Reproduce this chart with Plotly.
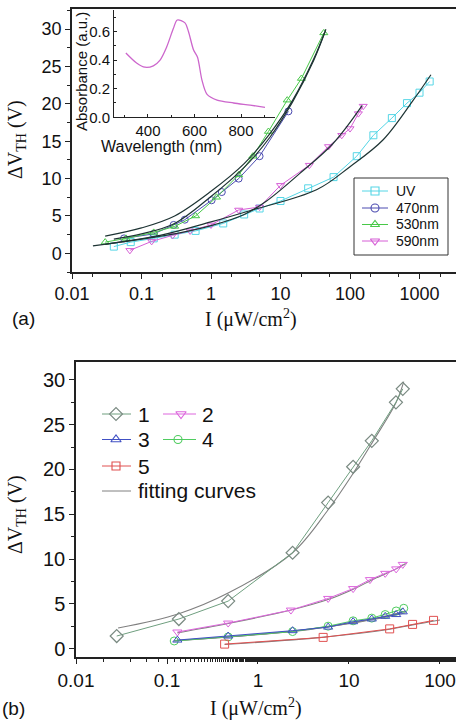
import plotly.graph_objects as go

W, H = 456, 722

# ---------------- data: panel (a) ----------------
uv_I = [0.04, 0.07, 0.15, 0.3, 0.6, 1.5, 3, 5, 10, 25, 58, 125, 217, 400, 660, 1000, 1400]
uv_V = [0.9, 1.5, 2.0, 2.5, 3.0, 4.0, 5.2, 6.0, 7.0, 8.7, 10.2, 13.0, 15.8, 18.1, 20.1, 21.5, 23.0]
b470_I = [0.056, 0.15, 0.29, 0.42, 1.02, 1.43, 2.5, 5, 13]
b470_V = [2.0, 2.6, 3.8, 4.5, 7.1, 8.2, 10.0, 13.0, 19.0]
g530_I = [0.03, 0.06, 0.15, 0.3, 0.6, 1.2, 2.5, 4, 6.7, 12.5, 20, 42]
g530_V = [1.5, 2.0, 2.8, 3.6, 5.0, 7.5, 10.5, 13.0, 16.3, 20.5, 23.4, 29.5]
m590_I = [0.068, 0.14, 0.28, 0.5, 1.0, 2.5, 5, 10, 26, 49, 76, 100, 132, 155]
m590_V = [0.4, 1.6, 2.4, 3.0, 3.8, 5.8, 6.2, 9.1, 11.8, 14.3, 15.8, 16.7, 18.7, 19.7]

# fitting curves of panel (a)
fit_uv_I = [0.02, 0.185, 1, 3.6, 33, 100, 300, 813, 1460]
fit_uv_V = [1.0, 2.4, 4.2, 5.7, 8.5, 11.6, 15.2, 20.5, 23.9]
fit_470_I = [0.04, 0.1, 0.3, 1, 3, 7, 15, 30, 44]
fit_470_V = [1.9, 2.6, 4.0, 7.6, 11.5, 15.5, 20.3, 25.8, 29.7]
fit_530_I = [0.03, 0.1, 0.3, 1, 3, 7, 15, 30, 45]
fit_530_V = [2.3, 3.4, 5.0, 8.3, 12.0, 16.0, 20.5, 26.0, 30.0]
fit_590_I = [0.03, 0.1, 0.3, 1, 3, 6.3, 19, 57, 150]
fit_590_V = [1.2, 1.9, 2.6, 3.7, 5.2, 7.0, 10.7, 14.7, 19.8]

# inset: absorbance spectrum
wl_nm = [305, 351, 387, 423, 452, 480, 509, 526, 559, 574, 596, 613, 632, 654, 697, 768, 839, 903]
absorb = [0.45, 0.38, 0.35, 0.36, 0.40, 0.49, 0.62, 0.68, 0.66, 0.60, 0.47, 0.42, 0.26, 0.16, 0.12, 0.10, 0.085, 0.07]

# ---------------- data: panel (b) ----------------
s1_I = [0.028, 0.135, 0.47, 2.4, 5.9, 11.1, 17.8, 32.8, 39]
s1_V = [1.4, 3.3, 5.3, 10.7, 16.3, 20.3, 23.2, 27.5, 29.0]
s2_I = [0.13, 0.47, 2.3, 5.9, 11.1, 17, 25, 33, 39]
s2_V = [1.85, 2.85, 4.3, 5.6, 6.7, 7.7, 8.4, 8.9, 9.4]
s3_I = [0.13, 0.47, 2.4, 5.9, 11.1, 17.8, 25, 33, 39]
s3_V = [0.95, 1.4, 2.0, 2.4, 3.0, 3.3, 3.6, 3.8, 4.1]
s4_I = [0.12, 0.47, 2.4, 5.9, 11.1, 17.8, 25, 33, 40]
s4_V = [0.85, 1.3, 1.9, 2.5, 3.1, 3.4, 3.8, 4.2, 4.5]
s5_I = [0.43, 5.2, 28, 50, 85]
s5_V = [0.5, 1.25, 2.2, 2.7, 3.15]

fit1_I = [0.029, 0.135, 0.47, 2.4, 5.9, 11, 18, 33, 40]
fit1_V = [2.3, 3.9, 6.2, 10.7, 15.5, 19.5, 23.0, 27.5, 29.8]
fit2_I = [0.13, 0.47, 2.3, 6, 11, 20, 33, 42]
fit2_V = [1.75, 2.8, 4.3, 5.5, 6.6, 7.9, 8.9, 9.5]
fit3_I = [0.12, 0.47, 2.4, 6, 11, 20, 33, 42]
fit3_V = [0.9, 1.3, 1.95, 2.45, 2.85, 3.3, 3.75, 4.0]
fit4_I = [0.12, 0.47, 2.4, 6, 11, 20, 33, 42]
fit4_V = [0.85, 1.3, 1.9, 2.45, 2.9, 3.4, 3.9, 4.2]
fit5_I = [0.43, 5, 28, 50, 100]
fit5_V = [0.45, 1.25, 2.15, 2.65, 3.2]

# ---------------- styles ----------------
C_UV, C_470, C_530, C_590 = '#55d6e6', '#4b4bb0', '#48c848', '#d65fd6'
C_FIT_A = '#1e3434'
C_S1L, C_S1M = '#6f9f7f', '#7a8a82'
C_S2, C_S3, C_S4, C_S5 = '#dd66dd', '#4050c4', '#50cc60', '#e05050'
C_FIT_B = '#808080'
AX = '#222222'
SANS = 'Liberation Sans, Arial, sans-serif'
SERIF = 'Liberation Serif, Times New Roman, serif'


def px(x):
    return x / W


def py(y):
    return 1 - y / H


fig = go.Figure()


def data_trace(xs, ys, color, symbol, size, xa, ya, lw=1):
    fig.add_trace(go.Scatter(x=xs, y=ys, mode='lines+markers', xaxis=xa, yaxis=ya,
                             line=dict(color=color, width=lw),
                             marker=dict(symbol=symbol, size=size, color=color,
                                         line=dict(color=color, width=1)),
                             showlegend=False, hoverinfo='skip'))


def fit_trace(xs, ys, color, xa, ya, lw=1.2):
    fig.add_trace(go.Scatter(x=xs, y=ys, mode='lines', xaxis=xa, yaxis=ya,
                             line=dict(color=color, width=lw, shape='spline', smoothing=1.0),
                             showlegend=False, hoverinfo='skip'))


# panel (a)
data_trace(uv_I, uv_V, C_UV, 'square-open', 7, 'x', 'y')
data_trace(b470_I, b470_V, C_470, 'circle-open', 7, 'x', 'y')
data_trace(g530_I, g530_V, C_530, 'triangle-up-open', 7, 'x', 'y')
data_trace(m590_I, m590_V, C_590, 'triangle-down-open', 7, 'x', 'y')
for fx, fy in [(fit_uv_I, fit_uv_V), (fit_470_I, fit_470_V), (fit_530_I, fit_530_V), (fit_590_I, fit_590_V)]:
    fit_trace(fx, fy, C_FIT_A, 'x', 'y')

# inset
fig.add_trace(go.Scatter(x=wl_nm, y=absorb, mode='lines', xaxis='x3', yaxis='y3',
                         line=dict(color='#cc66cc', width=1.3, shape='spline', smoothing=0.8),
                         showlegend=False, hoverinfo='skip'))

# panel (b)
for fx, fy in [(fit1_I, fit1_V), (fit2_I, fit2_V), (fit3_I, fit3_V), (fit4_I, fit4_V), (fit5_I, fit5_V)]:
    fit_trace(fx, fy, C_FIT_B, 'x2', 'y2', lw=1.1)
fig.add_trace(go.Scatter(x=s1_I, y=s1_V, mode='lines+markers', xaxis='x2', yaxis='y2',
                         line=dict(color=C_S1L, width=1),
                         marker=dict(symbol='diamond-open', size=10, color=C_S1M, line=dict(color=C_S1M, width=1.2)),
                         showlegend=False, hoverinfo='skip'))
data_trace(s2_I, s2_V, C_S2, 'triangle-down-open', 8, 'x2', 'y2')
data_trace(s4_I, s4_V, C_S4, 'circle-open', 8, 'x2', 'y2')
data_trace(s3_I, s3_V, C_S3, 'triangle-up-open', 8, 'x2', 'y2')
data_trace(s5_I, s5_V, C_S5, 'square-open', 8, 'x2', 'y2')

# ---------------- manual legends (overlay pixel axis) ----------------
ann = []


def legend_entry(x0, x1, xm, yrow, color, symbol, size, label, fsize, tx, mcolor=None):
    fig.add_trace(go.Scatter(x=[x0, x1], y=[yrow, yrow], mode='lines', xaxis='x4', yaxis='y4',
                             line=dict(color=color, width=1), showlegend=False, hoverinfo='skip'))
    if symbol:
        mc = mcolor or color
        fig.add_trace(go.Scatter(x=[xm], y=[yrow], mode='markers', xaxis='x4', yaxis='y4',
                                 marker=dict(symbol=symbol, size=size, color=mc, line=dict(color=mc, width=1.1)),
                                 showlegend=False, hoverinfo='skip'))
    ann.append(dict(x=px(tx), y=py(yrow), xref='paper', yref='paper', text=label, showarrow=False,
                    xanchor='left', yanchor='middle', font=dict(family=SANS, size=fsize, color='#111')))


leg_a = [('UV', C_UV, 'square-open', 191), ('470nm', C_470, 'circle-open', 208),
         ('530nm', C_530, 'triangle-up-open', 224.5), ('590nm', C_590, 'triangle-down-open', 241)]
for lab, col, sym, yr in leg_a:
    legend_entry(362, 388, 375, yr, col, sym, 8, lab, 14, 394)

legend_entry(102, 131, 116, 414, C_S1L, 'diamond-open', 10, '1', 21, 136, mcolor=C_S1M)
legend_entry(163, 196, 181, 414, C_S2, 'triangle-down-open', 9, '2', 21, 200)
legend_entry(102, 131, 116, 439.5, C_S3, 'triangle-up-open', 9, '3', 21, 136)
legend_entry(163, 196, 178, 439.5, C_S4, 'circle-open', 8, '4', 21, 200)
legend_entry(102, 131, 116, 466, C_S5, 'square-open', 8, '5', 21, 136)
legend_entry(102, 131, 116, 491, C_FIT_B, None, 0, 'fitting curves', 21, 136)

# ---------------- titles / labels ----------------
ann += [
    dict(x=px(251), y=py(318), text='I (\u03bcW/cm<sup>2</sup>)', font=dict(family=SERIF, size=20, color='#111')),
    dict(x=px(256), y=py(707), text='I (\u03bcW/cm<sup>2</sup>)', font=dict(family=SERIF, size=20, color='#111')),
    dict(x=px(16), y=py(140), text='\u0394V<sub>TH</sub> (V)', textangle=-90, font=dict(family=SERIF, size=20, color='#111')),
    dict(x=px(16), y=py(515), text='\u0394V<sub>TH</sub> (V)', textangle=-90, font=dict(family=SERIF, size=20, color='#111')),
    dict(x=px(23), y=py(318), text='(a)', font=dict(family=SANS, size=19, color='#111')),
    dict(x=px(13), y=py(708), text='(b)', font=dict(family=SANS, size=19, color='#111')),
    dict(x=px(161), y=py(146), text='Wavelength (nm)', font=dict(family=SANS, size=16, color='#111')),
    dict(x=px(81), y=py(72), text='Absorbance (a.u.)', textangle=-90, font=dict(family=SANS, size=15, color='#111')),
]
for a in ann:
    a.setdefault('xref', 'paper')
    a.setdefault('yref', 'paper')
    a.setdefault('showarrow', False)
    a.setdefault('xanchor', 'center')
    a.setdefault('yanchor', 'middle')

tick_common = dict(showline=True, linecolor=AX, linewidth=1.5, ticks='outside', tickcolor=AX,
                   ticklen=5, tickwidth=1, showgrid=False, zeroline=False, automargin=False,
                   ticklabeloverflow='allow')

fig.update_layout(
    width=W, height=H, autosize=False,
    margin=dict(l=0, r=0, t=0, b=0, pad=0),
    paper_bgcolor='white', plot_bgcolor='rgba(0,0,0,0)',
    showlegend=False,
    xaxis=dict(type='log', range=[-2, 3.525], domain=[px(72), 1], anchor='y', mirror=True,
               tickvals=[0.01, 0.1, 1, 10, 100, 1000], ticktext=['0.01', '0.1', '1', '10', '100', '1000'],
               tickfont=dict(family=SANS, size=18, color='#111'),
               minor=dict(ticks='outside', ticklen=3, tickcolor=AX, showgrid=False), **tick_common),
    yaxis=dict(range=[-2.5, 32.7], domain=[py(272), py(9)], anchor='x', dtick=5, tick0=0,
               tickfont=dict(family=SANS, size=18, color='#111'),
               minor=dict(ticks='outside', ticklen=3, dtick=2.5, tickcolor=AX, showgrid=False), **tick_common),
    xaxis2=dict(type='log', range=[-2, 2.176], domain=[px(76), 1], anchor='y2', mirror=True,
                tickvals=[0.01, 0.1, 1, 10, 100], ticktext=['0.01', '0.1', '1', '10', '100'],
                tickfont=dict(family=SANS, size=19, color='#111'),
                minor=dict(ticks='outside', ticklen=3, tickcolor=AX, showgrid=False), **tick_common),
    yaxis2=dict(range=[-0.94, 32], domain=[py(657), py(362)], anchor='x2', dtick=5, tick0=0,
                tickfont=dict(family=SANS, size=20, color='#111'),
                minor=dict(ticks='outside', ticklen=3, dtick=2.5, tickcolor=AX, showgrid=False), **tick_common),
    xaxis3=dict(range=[254, 946], domain=[px(114), px(275)], anchor='y3', showline=True, linecolor=AX,
                linewidth=1, ticks='inside', ticklen=3, tickcolor=AX, tickvals=[400, 600, 800],
                tickfont=dict(family=SANS, size=15, color='#111'), showgrid=False, zeroline=False,
                automargin=False, minor=dict(ticks='inside', ticklen=2, dtick=100, tickcolor=AX)),
    yaxis3=dict(range=[0, 0.75], domain=[py(117.3), py(10)], anchor='x3', showline=True, linecolor=AX,
                linewidth=1, ticks='inside', ticklen=3, tickcolor=AX, tickvals=[0, 0.2, 0.4, 0.6],
                tickformat='.1f', tickfont=dict(family=SANS, size=15, color='#111'), showgrid=False,
                zeroline=False, automargin=False,
                minor=dict(ticks='inside', ticklen=2, dtick=0.1, tickcolor=AX)),
    xaxis4=dict(range=[0, W], domain=[0, 1], anchor='y4', visible=False, fixedrange=True, automargin=False),
    yaxis4=dict(range=[H, 0], domain=[0, 1], anchor='x4', visible=False, fixedrange=True, automargin=False),
    annotations=ann,
    shapes=[dict(type='rect', xref='paper', yref='paper', x0=px(354), x1=px(448), y0=py(255), y1=py(178),
                 line=dict(color='#333', width=1), fillcolor='rgba(0,0,0,0)')],
)

fig.write_html('out.html', config={'displayModeBar': False},
               post_script="document.body.style.margin='0px';document.body.style.overflow='hidden';")
